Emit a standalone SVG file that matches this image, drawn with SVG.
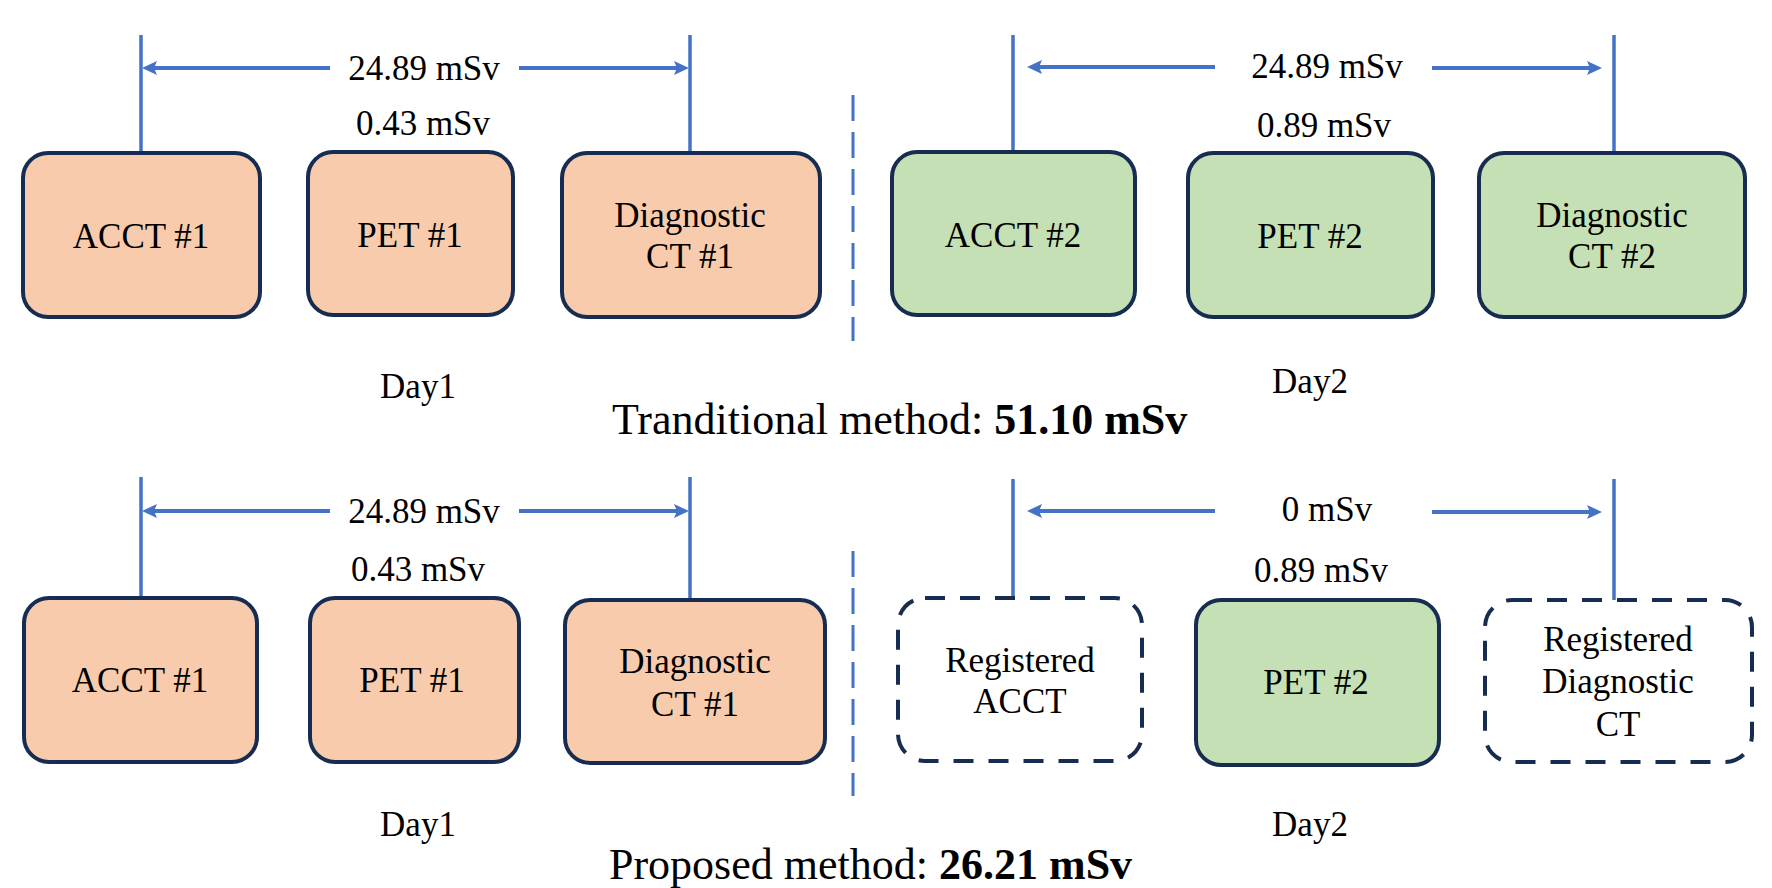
<svg xmlns="http://www.w3.org/2000/svg" width="1772" height="888" viewBox="0 0 1772 888">
<style>
.t{font-family:"Liberation Serif","Times New Roman",serif;font-size:35px;fill:#000;text-anchor:middle}
.title{font-family:"Liberation Serif","Times New Roman",serif;font-size:44px;fill:#000}
.b{font-weight:bold}
.peach{fill:#F8CBAD;stroke:#172C51;stroke-width:4}
.green{fill:#C5E0B4;stroke:#172C51;stroke-width:4}
.reg{fill:#FFFFFF;stroke:#172C51;stroke-width:4;stroke-dasharray:20 15}
.ln{stroke:#4472C4;stroke-width:3.5;fill:none}
.ar{stroke:#4472C4;stroke-width:4;fill:none;marker-end:url(#ah)}
.dash{stroke:#4472C4;stroke-width:3;fill:none;stroke-dasharray:26 11}
</style>
<defs>
<marker id="ah" markerUnits="userSpaceOnUse" markerWidth="16" markerHeight="16" refX="10" refY="8" orient="auto">
<path d="M0,1 L15,8 L0,15 L3,8 z" fill="#4472C4"/>
</marker>
</defs>
<rect width="1772" height="888" fill="#FFFFFF"/>

<g id="connectors">
<line class="ln" x1="141" y1="35" x2="141" y2="153"/>
<line class="ln" x1="690" y1="35" x2="690" y2="153"/>
<line class="ar" x1="330" y1="68" x2="147" y2="68"/>
<line class="ar" x1="519" y1="68" x2="684" y2="68"/>
<line class="ln" x1="1013" y1="35" x2="1013" y2="152"/>
<line class="ln" x1="1614" y1="35" x2="1614" y2="153"/>
<line class="ar" x1="1215" y1="67" x2="1032" y2="67"/>
<line class="ar" x1="1432" y1="68" x2="1597" y2="68"/>
<line class="dash" x1="853" y1="95" x2="853" y2="341"/>

<line class="ln" x1="141" y1="477" x2="141" y2="598"/>
<line class="ln" x1="690" y1="477" x2="690" y2="600"/>
<line class="ar" x1="330" y1="511" x2="147" y2="511"/>
<line class="ar" x1="519" y1="511" x2="684" y2="511"/>
<line class="ln" x1="1013" y1="479" x2="1013" y2="598"/>
<line class="ln" x1="1614" y1="479" x2="1614" y2="600"/>
<line class="ar" x1="1215" y1="511" x2="1032" y2="511"/>
<line class="ar" x1="1432" y1="512" x2="1597" y2="512"/>
<line class="dash" x1="853" y1="551" x2="853" y2="796"/>
</g>

<g id="labels">
<text class="t" x="424" y="80">24.89 mSv</text>
<text class="t" x="423" y="135">0.43 mSv</text>
<text class="t" x="1327" y="78">24.89 mSv</text>
<text class="t" x="1324" y="137">0.89 mSv</text>
<text class="t" x="418" y="398">Day1</text>
<text class="t" x="1310" y="393">Day2</text>
<text class="title" x="612" y="434">Tranditional method: <tspan class="b">51.10 mSv</tspan></text>

<text class="t" x="424" y="523">24.89 mSv</text>
<text class="t" x="418" y="581">0.43 mSv</text>
<text class="t" x="1327" y="521">0 mSv</text>
<text class="t" x="1321" y="582">0.89 mSv</text>
<text class="t" x="418" y="836">Day1</text>
<text class="t" x="1310" y="836">Day2</text>
<text class="title" x="609" y="879">Proposed method: <tspan class="b">26.21 mSv</tspan></text>
</g>

<g id="t_acct1"><rect class="peach" x="23" y="153" width="237" height="164" rx="25"/><text class="t" x="141" y="248">ACCT #1</text></g>
<g id="t_pet1"><rect class="peach" x="308" y="152" width="205" height="163" rx="25"/><text class="t" x="410" y="247">PET #1</text></g>
<g id="t_diag1"><rect class="peach" x="562" y="153" width="258" height="164" rx="25"/><text class="t" x="690" y="227">Diagnostic</text><text class="t" x="690" y="268">CT #1</text></g>
<g id="t_acct2"><rect class="green" x="892" y="152" width="243" height="163" rx="25"/><text class="t" x="1013" y="247">ACCT #2</text></g>
<g id="t_pet2"><rect class="green" x="1188" y="153" width="245" height="164" rx="25"/><text class="t" x="1310" y="248">PET #2</text></g>
<g id="t_diag2"><rect class="green" x="1479" y="153" width="266" height="164" rx="25"/><text class="t" x="1612" y="227">Diagnostic</text><text class="t" x="1612" y="268">CT #2</text></g>

<g id="b_acct1"><rect class="peach" x="24" y="598" width="233" height="164" rx="25"/><text class="t" x="140" y="692">ACCT #1</text></g>
<g id="b_pet1"><rect class="peach" x="310" y="598" width="209" height="164" rx="25"/><text class="t" x="412" y="692">PET #1</text></g>
<g id="b_diag1"><rect class="peach" x="565" y="600" width="260" height="163" rx="25"/><text class="t" x="695" y="673">Diagnostic</text><text class="t" x="695" y="716">CT #1</text></g>
<g id="b_racct"><rect class="reg" x="898" y="598" width="244" height="163" rx="27"/><text class="t" x="1020" y="672">Registered</text><text class="t" x="1020" y="713">ACCT</text></g>
<g id="b_pet2"><rect class="green" x="1196" y="600" width="243" height="165" rx="25"/><text class="t" x="1316" y="694">PET #2</text></g>
<g id="b_rdiag"><rect class="reg" x="1485" y="600" width="267" height="162" rx="27"/><text class="t" x="1618" y="651">Registered</text><text class="t" x="1618" y="693">Diagnostic</text><text class="t" x="1618" y="736">CT</text></g>
</svg>
